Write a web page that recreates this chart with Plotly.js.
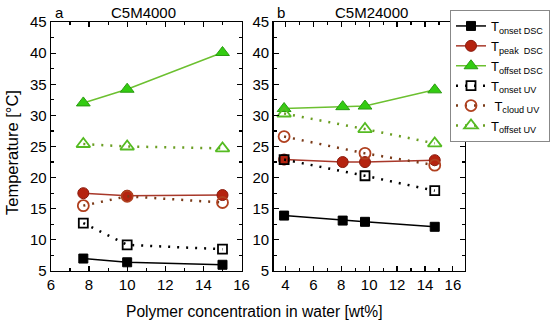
<!DOCTYPE html>
<html><head><meta charset="utf-8">
<script src="https://cdn.plot.ly/plotly-3.0.1.min.js"></script>
<style>html,body{margin:0;padding:0;background:#fff}#chart{width:550px;height:324px}</style>
</head><body><div id="chart"></div>
<script>
// Panel a: C5M4000
const xA = [7.7, 10, 15];
const aOnsetDSC = [7.0, 6.4, 6.0];
const aPeakDSC = [17.5, 17.1, 17.2];
const aOffsetDSC = [32.0, 34.2, 40.1];
const aOnsetUV = [12.7, 9.2, 8.5];
const aCloudUV = [15.5, 17.0, 16.0];
const aOffsetUV = [25.4, 25.0, 24.7];
// Panel b: C5M24000
const xB_DSC = [3.9, 8.1, 9.7, 14.7];
const bOnsetDSC = [13.9, 13.1, 12.9, 12.1];
const bPeakDSC = [22.9, 22.5, 22.5, 22.8];
const bOffsetDSC = [31.1, 31.4, 31.5, 34.1];
const xB_UV = [3.9, 9.7, 14.7];
const bOnsetUV = [22.9, 20.3, 17.9];
const bCloudUV = [26.6, 23.9, 22.0];
const bOffsetUV = [30.3, 27.8, 25.5];

const seriesNames = ["T<sub>onset DSC</sub>", "T<sub>peak  DSC</sub>", "T<sub>offset DSC</sub>",
                     "T<sub>onset UV</sub>", " T<sub>cloud UV</sub>", "T<sub>offset UV</sub>"];

const styles = [
  {line:{color:'#000000', width:1.5}, marker:{symbol:'square', size:9, color:'#000000', line:{color:'#000', width:1}}},
  {line:{color:'#a8382a', width:1.5}, marker:{symbol:'circle', size:11, color:'#b5230f', line:{color:'#8a1a0c', width:1}}},
  {line:{color:'#6cc030', width:1.5}, marker:{symbol:'triangle-up', size:12, color:'#33cc11', line:{color:'#2a9a10', width:1}}},
  {line:{color:'#000000', width:2.5, dash:'2px,7px'}, marker:{symbol:'square-open', size:9, color:'#000000', line:{width:1.8}}},
  {line:{color:'#7a3a18', width:2.5, dash:'2px,7px'}, marker:{symbol:'circle-open', size:11, color:'#b0401f', line:{width:1.8}}},
  {line:{color:'#6a9e22', width:2.5, dash:'2px,7px'}, marker:{symbol:'triangle-up-open', size:12, color:'#55bb22', line:{width:1.8}}}
];

const aData = [aOnsetDSC, aPeakDSC, aOffsetDSC, aOnsetUV, aCloudUV, aOffsetUV];
const bData = [bOnsetDSC, bPeakDSC, bOffsetDSC, bOnsetUV, bCloudUV, bOffsetUV];
const bX = [xB_DSC, xB_DSC, xB_DSC, xB_UV, xB_UV, xB_UV];

const traces = [];
for (let i = 0; i < 6; i++) {
  traces.push({x:xA, y:aData[i], type:'scatter', mode:'lines+markers', name:seriesNames[i],
    legendgroup:'g'+i, line:styles[i].line, marker:styles[i].marker, xaxis:'x', yaxis:'y'});
}
for (let i = 0; i < 6; i++) {
  traces.push({x:bX[i], y:bData[i], type:'scatter', mode:'lines+markers', name:seriesNames[i],
    legendgroup:'g'+i, showlegend:false, line:styles[i].line, marker:styles[i].marker, xaxis:'x2', yaxis:'y2'});
}

const W = 550, H = 324;
const FONT = 'Liberation Sans, Arial, sans-serif';
const yDom = [(H-271)/H, (H-22)/H];
const axCommon = {
  showline:true, linecolor:'#000', linewidth:1.3, mirror:'allticks',
  ticks:'inside', ticklen:5, tickwidth:1.2, tickcolor:'#000',
  showgrid:false, zeroline:false,
  tickfont:{family:FONT, size:15, color:'#000'},
  fixedrange:true
};

const layout = {
  width:W, height:H, margin:{l:0,r:0,t:0,b:0},
  paper_bgcolor:'#fff', plot_bgcolor:'#fff',
  font:{family:FONT, color:'#000'},
  xaxis: Object.assign({}, axCommon, {domain:[51/W, 242/W], range:[6,16], dtick:2, tick0:0,
    minor:{dtick:1, ticks:'inside', ticklen:3, tickcolor:'#000'}, anchor:'y'}),
  yaxis: Object.assign({}, axCommon, {domain:yDom, range:[5,45], dtick:5, tick0:0,
    minor:{dtick:2.5, ticks:'inside', ticklen:3, tickcolor:'#000'}, anchor:'x'}),
  xaxis2: Object.assign({}, axCommon, {domain:[274/W, 466/W], range:[3.14,16.88], dtick:2, tick0:0,
    minor:{dtick:1, ticks:'inside', ticklen:3, tickcolor:'#000'}, anchor:'y2'}),
  yaxis2: Object.assign({}, axCommon, {domain:yDom, range:[5,45], dtick:5, tick0:0,
    minor:{dtick:2.5, ticks:'inside', ticklen:3, tickcolor:'#000'}, anchor:'x2'}),
  showlegend:true,
  legend:{x:451/W, y:(H-10)/H, xanchor:'left', yanchor:'top', bgcolor:'#fff',
    bordercolor:'#888', borderwidth:1, itemwidth:30, tracegroupgap:0,
    font:{family:FONT, size:13, color:'#000'}},
  annotations:[
    {text:'a', x:53/W, y:(H-13)/H, xref:'paper', yref:'paper', xanchor:'left', yanchor:'middle', showarrow:false, font:{size:15}},
    {text:'C5M4000', x:144/W, y:(H-13)/H, xref:'paper', yref:'paper', xanchor:'center', yanchor:'middle', showarrow:false, font:{size:15}},
    {text:'b', x:275/W, y:(H-13)/H, xref:'paper', yref:'paper', xanchor:'left', yanchor:'middle', showarrow:false, font:{size:15}},
    {text:'C5M24000', x:372/W, y:(H-13)/H, xref:'paper', yref:'paper', xanchor:'center', yanchor:'middle', showarrow:false, font:{size:15}},
    {text:'Temperature [°C]', x:12/W, y:(H-152)/H, xref:'paper', yref:'paper', xanchor:'center', yanchor:'middle', textangle:-90, showarrow:false, font:{size:16.5}},
    {text:'Polymer concentration in water [wt%]', x:255/W, y:(H-311)/H, xref:'paper', yref:'paper', xanchor:'center', yanchor:'middle', showarrow:false, font:{size:15.6}}
  ]
};

Plotly.newPlot('chart', traces, layout, {staticPlot:true, displayModeBar:false});
</script></body></html>
